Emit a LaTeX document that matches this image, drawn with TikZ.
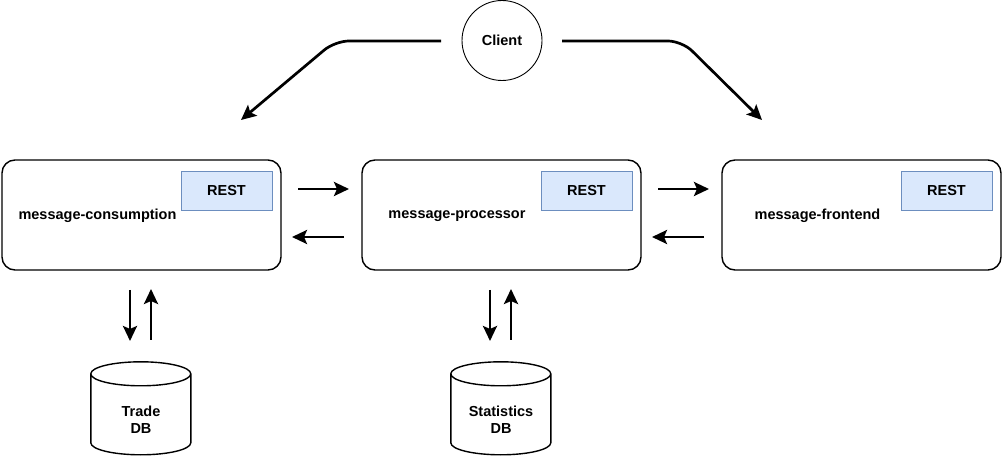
\documentclass[tikz,border=0pt]{standalone}
\usepackage{fontspec}
\setmainfont{Liberation Sans}
\usetikzlibrary{arrows.meta,calc}
\definecolor{restfill}{HTML}{DAE8FC}
\definecolor{restdraw}{HTML}{6C8EBF}
\tikzset{
  bigfont/.style={font=\bfseries\fontsize{14.5}{17}\selectfont},
  svc/.style={draw, line width=1.4pt, rounded corners=13pt, minimum width=279pt, minimum height=110pt, inner sep=0pt},
  rest/.style={draw=restdraw, fill=restfill, line width=0.7pt, minimum width=91pt, minimum height=39pt, inner sep=0pt, bigfont},
  lbl/.style={bigfont, inner sep=0pt},
  conn/.style={line width=2.7pt, -{Stealth[length=15pt,width=14pt,inset=3pt]}},
  dbbox/.style={minimum width=100pt, minimum height=93pt, inner sep=0pt},
  clientnode/.style={draw, circle, line width=0.9pt, minimum size=80pt, inner sep=0pt, bigfont}
}
\begin{document}
\begin{tikzpicture}[x=1pt,y=-1pt]
\useasboundingbox (0,0) rectangle (1002,462);
% client
\node[clientnode] (client) at (502,40.5) {Client};
% services
\node[svc] (cons) at (141.5,215) {};
\node[svc] (proc) at (501.5,215) {};
\node[svc] (front) at (861.5,215) {};
\node[rest] (rest1) at (226.5,190.5) {REST};
\node[rest] (rest2) at (586.5,190.5) {REST};
\node[rest] (rest3) at (946.5,190.5) {REST};
\node[lbl] (l1) at (97.5,216) {message-consumption};
\node[lbl] (l2) at (457,216) {message-processor};
\node[lbl] (l3) at (817.5,216) {message-frontend};
% client arrows
\coordinate (cl1) at (441,41);
\coordinate (cl1b) at (335,41);
\coordinate (cl1e) at (241,120);
\coordinate (cr1) at (562,41);
\coordinate (cr1b) at (682,41);
\coordinate (cr1e) at (762,120);
\draw[conn, rounded corners=14pt] (cl1) -- (cl1b) -- (cl1e);
\draw[conn, rounded corners=14pt] (cr1) -- (cr1b) -- (cr1e);
% horizontal arrows
\coordinate (h1a) at (298,189); \coordinate (h1b) at (349,189);
\coordinate (h2a) at (344,237); \coordinate (h2b) at (292,237);
\coordinate (h3a) at (658,189); \coordinate (h3b) at (709,189);
\coordinate (h4a) at (704,237); \coordinate (h4b) at (652,237);
\draw[conn] (h1a) -- (h1b);
\draw[conn] (h2a) -- (h2b);
\draw[conn] (h3a) -- (h3b);
\draw[conn] (h4a) -- (h4b);
% vertical arrows
\coordinate (v1a) at (130,290); \coordinate (v1b) at (130,341);
\coordinate (v2a) at (151,340); \coordinate (v2b) at (151,289);
\coordinate (v3a) at (490,290); \coordinate (v3b) at (490,341);
\coordinate (v4a) at (511,340); \coordinate (v4b) at (511,289);
\draw[conn] (v1a) -- (v1b);
\draw[conn] (v2a) -- (v2b);
\draw[conn] (v3a) -- (v3b);
\draw[conn] (v4a) -- (v4b);
% databases
\foreach \n/\cx/\t in {tdb/141/{Trade\\DB}, sdb/501/{Statistics\\DB}}{
  \node[dbbox] (\n) at (\cx,408.5) {};
  \draw[line width=1.4pt] (\n.north west) ++(0,12) coordinate (tl)
     (tl) arc[start angle=180, end angle=360, x radius=50pt, y radius=12pt]
     arc[start angle=0, end angle=180, x radius=50pt, y radius=12pt] -- ++(0,69)
     arc[start angle=180, end angle=360, x radius=50pt, y radius=12pt] -- ++(0,-69);
  \node[bigfont, align=center, inner sep=0pt] at ($(\n.center)+(0,11)$) {\t};
}
\end{tikzpicture}
\end{document}
